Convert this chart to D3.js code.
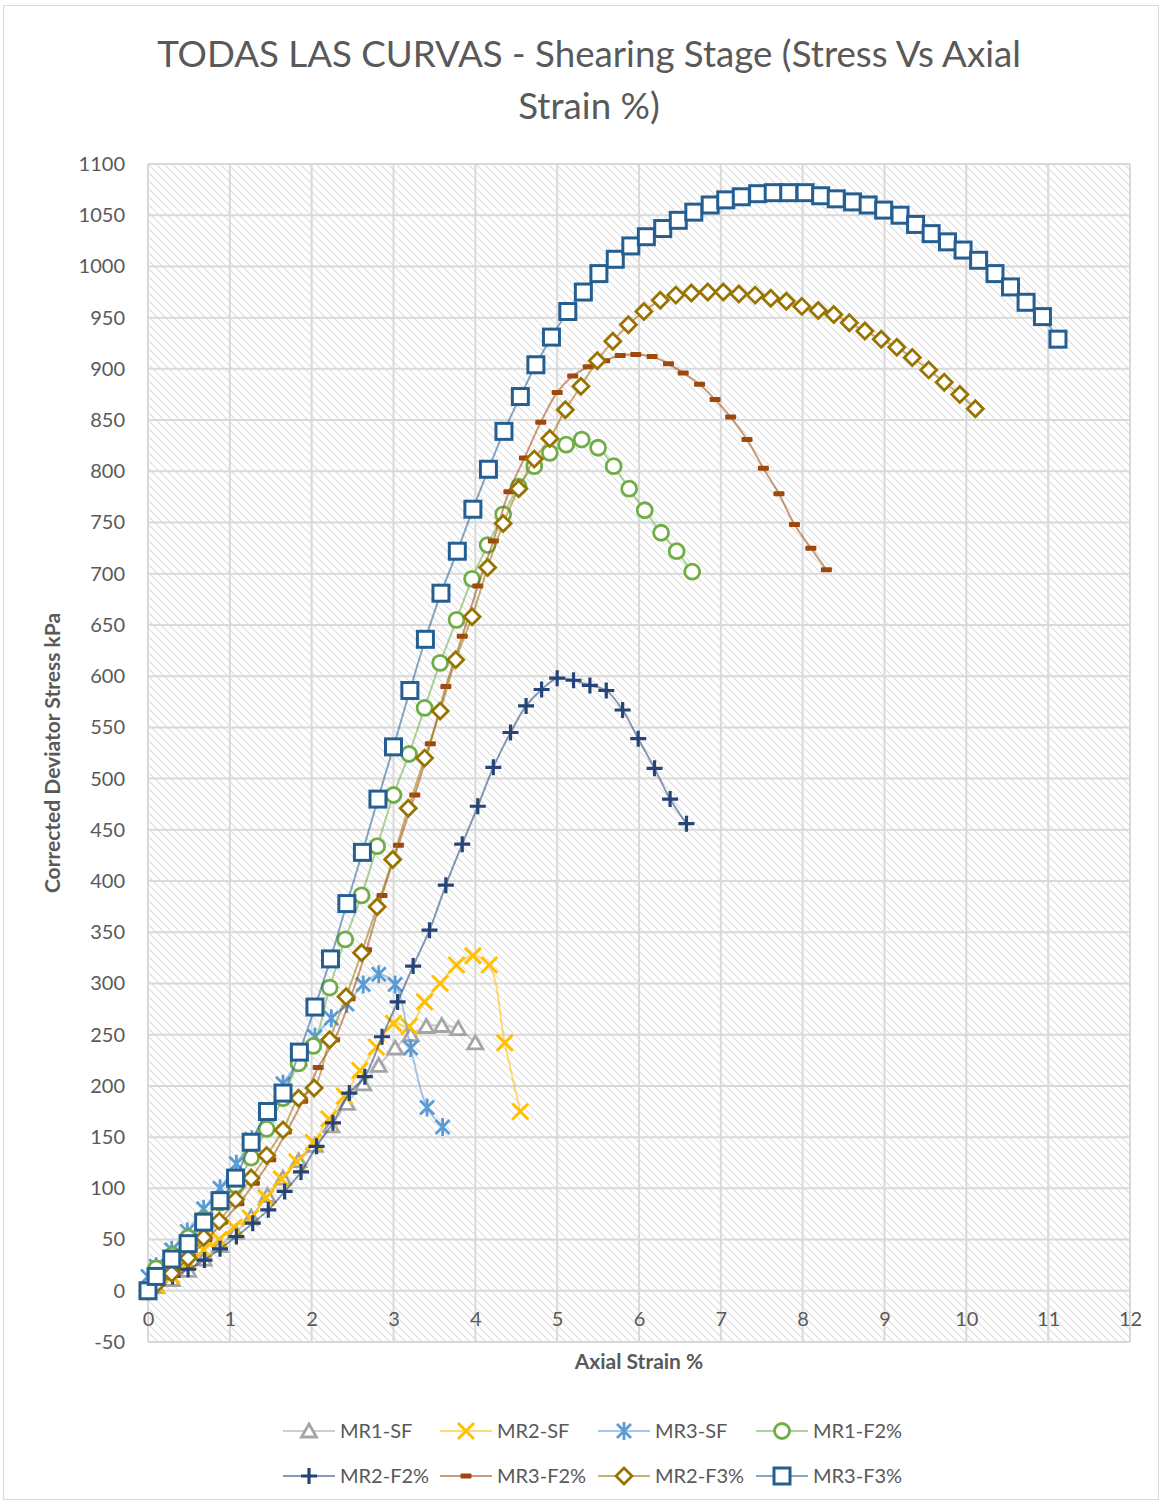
<!DOCTYPE html>
<html>
<head>
<meta charset="utf-8">
<script src="https://cdn.jsdelivr.net/npm/d3@7"></script>
<style>
  body { margin: 0; background: #fff; }
  svg text { font-family: Lato, "Open Sans", sans-serif; fill: #595959; }
</style>
</head>
<body>
<div id="chart"></div>
<script>
// chart size and plot box
var svgWidth = 1166;
var svgHeight = 1503;
var plot = { left: 148, right: 1130, top: 164, bottom: 1342 };

// tick labels
var xTicks = [0, 1, 2, 3, 4, 5, 6, 7, 8, 9, 10, 11, 12];
var yTicks = [-50, 0, 50, 100, 150, 200, 250, 300, 350, 400, 450, 500, 550, 600,
  650, 700, 750, 800, 850, 900, 950, 1000, 1050, 1100];

// series names in legend order
var seriesNames = ["MR1-SF", "MR2-SF", "MR3-SF", "MR1-F2%", "MR2-F2%", "MR3-F2%", "MR2-F3%", "MR3-F3%"];

// MR1-SF
var mr1sfX = [0, 0.1, 0.29, 0.49, 0.68, 0.88, 1.07, 1.26, 1.46, 1.65, 1.84, 2.04, 2.24, 2.43, 2.63, 2.82, 3.02, 3.21, 3.40, 3.59, 3.79, 4.0];
var mr1sfY = [0, 4, 11, 20, 31, 44, 57, 72, 93, 110, 127, 142, 161, 183, 202, 220, 237, 250, 258, 259, 256, 242];
// MR2-SF
var mr2sfX = [0, 0.1, 0.29, 0.49, 0.68, 0.87, 1.05, 1.25, 1.44, 1.63, 1.82, 2.02, 2.21, 2.40, 2.59, 2.79, 3.0, 3.19, 3.38, 3.57, 3.77, 3.97, 4.17, 4.36, 4.55];
var mr2sfY = [0, 5, 15, 28, 40, 50, 62, 71, 91, 109, 126, 145, 168, 190, 215, 238, 261, 258, 282, 300, 318, 327, 318, 242, 175];
// MR3-SF
var mr3sfX = [0, 0.1, 0.29, 0.48, 0.68, 0.88, 1.08, 1.27, 1.46, 1.65, 1.86, 2.04, 2.24, 2.43, 2.63, 2.82, 3.02, 3.21, 3.41, 3.60];
var mr3sfY = [14, 24, 40, 58, 80, 100, 124, 148, 172, 202, 226, 248, 266, 280, 299, 309, 299, 237, 179, 160];
// MR1-F2%
var mr1f2X = [0, 0.1, 0.3, 0.49, 0.68, 0.88, 1.07, 1.26, 1.45, 1.65, 1.84, 2.02, 2.22, 2.41, 2.61, 2.80, 3.0, 3.19, 3.38, 3.57, 3.77, 3.96, 4.15, 4.34, 4.53, 4.72, 4.91, 5.11, 5.30, 5.50, 5.69, 5.88, 6.07, 6.27, 6.46, 6.65];
var mr1f2Y = [0, 22, 35, 52, 70, 86, 103, 130, 158, 188, 222, 239, 296, 343, 386, 434, 484, 524, 569, 613, 655, 695, 728, 758, 785, 805, 818, 826, 831, 823, 805, 783, 762, 740, 722, 702];
// MR2-F2%
var mr2f2X = [0, 0.1, 0.30, 0.49, 0.69, 0.88, 1.08, 1.28, 1.47, 1.67, 1.87, 2.06, 2.26, 2.46, 2.65, 2.86, 3.05, 3.24, 3.44, 3.64, 3.84, 4.03, 4.22, 4.43, 4.62, 4.81, 5.00, 5.20, 5.40, 5.60, 5.80, 5.99, 6.19, 6.38, 6.58];
var mr2f2Y = [0, 6, 14, 21, 30, 41, 53, 66, 79, 97, 116, 141, 164, 193, 209, 248, 282, 317, 352, 396, 436, 473, 511, 545, 571, 587, 598, 596, 591, 586, 567, 539, 510, 480, 456];
// MR3-F2%
var mr3f2X = [0, 0.13, 0.33, 0.52, 0.72, 0.91, 1.11, 1.30, 1.50, 1.69, 1.89, 2.08, 2.28, 2.47, 2.67, 2.86, 3.06, 3.26, 3.45, 3.64, 3.84, 4.03, 4.22, 4.41, 4.60, 4.80, 5.00, 5.19, 5.38, 5.58, 5.77, 5.96, 6.16, 6.36, 6.54, 6.74, 6.93, 7.12, 7.32, 7.52, 7.71, 7.90, 8.10, 8.29];
var mr3f2Y = [0, 8, 20, 34, 50, 67, 85, 105, 128, 155, 185, 218, 245, 285, 333, 386, 435, 484, 534, 590, 639, 688, 732, 780, 813, 848, 877, 893, 902, 908, 913, 914, 912, 905, 896, 885, 870, 853, 831, 803, 778, 748, 725, 704];
// MR2-F3%
var mr2f3X = [0, 0.1, 0.29, 0.49, 0.68, 0.87, 1.07, 1.26, 1.45, 1.65, 1.84, 2.03, 2.22, 2.42, 2.61, 2.80, 2.99, 3.18, 3.38, 3.57, 3.76, 3.96, 4.15, 4.34, 4.53, 4.72, 4.91, 5.10, 5.29, 5.49, 5.68, 5.87, 6.06, 6.26, 6.45, 6.64, 6.84, 7.03, 7.22, 7.42, 7.61, 7.80, 7.99, 8.19, 8.38, 8.57, 8.76, 8.96, 9.15, 9.34, 9.54, 9.73, 9.92, 10.11];
var mr2f3Y = [0, 6, 17, 32, 52, 68, 89, 110, 132, 157, 188, 198, 245, 287, 330, 375, 421, 471, 520, 566, 616, 658, 706, 749, 783, 812, 832, 860, 883, 908, 927, 943, 956, 967, 972, 974, 975, 975, 973, 972, 969, 966, 961, 957, 953, 945, 937, 929, 921, 911, 899, 887, 875, 861];
// MR3-F3%
var mr3f3X = [0, 0.1, 0.29, 0.49, 0.68, 0.88, 1.07, 1.26, 1.46, 1.65, 1.85, 2.04, 2.23, 2.43, 2.62, 2.81, 3.0, 3.2, 3.39, 3.58, 3.78, 3.97, 4.16, 4.35, 4.55, 4.74, 4.93, 5.13, 5.32, 5.51, 5.71, 5.90, 6.09, 6.29, 6.48, 6.67, 6.87, 7.06, 7.25, 7.45, 7.64, 7.83, 8.03, 8.22, 8.41, 8.61, 8.80, 8.99, 9.19, 9.38, 9.57, 9.77, 9.96, 10.15, 10.35, 10.54, 10.73, 10.93, 11.12];
var mr3f3Y = [0, 14, 31, 46, 67, 88, 110, 145, 175, 193, 233, 277, 324, 378, 428, 480, 531, 586, 636, 681, 722, 763, 802, 839, 873, 904, 931, 956, 975, 993, 1007, 1020, 1029, 1037, 1045, 1053, 1060, 1065, 1068, 1071, 1072, 1072, 1072, 1069, 1066, 1063, 1060, 1055, 1050, 1041, 1032, 1024, 1016, 1006, 993, 980, 965, 951, 929];

var seriesX = [mr1sfX, mr2sfX, mr3sfX, mr1f2X, mr2f2X, mr3f2X, mr2f3X, mr3f3X];
var seriesY = [mr1sfY, mr2sfY, mr3sfY, mr1f2Y, mr2f2Y, mr3f2Y, mr2f3Y, mr3f3Y];
var colors = ["#A5A5A5", "#FFC000", "#5B9BD5", "#70AD47", "#264478", "#9E480E", "#997300", "#255E91"];
var markers = ["triangle", "x", "star", "circle", "plus", "dash", "diamond", "square"];

var svg = d3.select("#chart")
  .append("svg")
  .attr("width", svgWidth)
  .attr("height", svgHeight);

// outer chart border
svg.append("rect")
  .attr("x", 3.5).attr("y", 5.5)
  .attr("width", 1155).attr("height", 1494)
  .attr("fill", "#fff")
  .attr("stroke", "#d9d9d9");

// diagonal hatch for the plot area
var defs = svg.append("defs");
var pat = defs.append("pattern")
  .attr("id", "hatch")
  .attr("patternUnits", "userSpaceOnUse")
  .attr("width", 8).attr("height", 8);
pat.append("rect").attr("width", 8).attr("height", 8).attr("fill", "#fff");
pat.append("path")
  .attr("d", "M0,0L8,8M-2,6L2,10M6,-2L10,2")
  .attr("stroke", "#dedede")
  .attr("stroke-width", 1.1);

var xScale = d3.scaleLinear().domain([0, 12]).range([plot.left, plot.right]);
var yScale = d3.scaleLinear().domain([-50, 1100]).range([plot.bottom, plot.top]);

svg.append("rect")
  .attr("x", plot.left).attr("y", plot.top)
  .attr("width", plot.right - plot.left)
  .attr("height", plot.bottom - plot.top)
  .attr("fill", "url(#hatch)");

// gridlines
var grid = svg.append("g").attr("stroke", "#d9d9d9").attr("stroke-width", 2);
grid.selectAll(".hg").data(yTicks).enter().append("line")
  .attr("x1", plot.left).attr("x2", plot.right)
  .attr("y1", d => yScale(d)).attr("y2", d => yScale(d));
grid.selectAll(".vg").data(xTicks).enter().append("line")
  .attr("y1", plot.top).attr("y2", plot.bottom)
  .attr("x1", d => xScale(d)).attr("x2", d => xScale(d));

// axes (labels only)
var leftAxis = d3.axisLeft(yScale).tickValues(yTicks).tickSize(0).tickPadding(23)
  .tickFormat(d => String(d));
var yAxis = svg.append("g")
  .attr("transform", `translate(${plot.left}, 0)`)
  .call(leftAxis);
yAxis.select(".domain").remove();
yAxis.selectAll("text").attr("font-size", 20).attr("fill", "#595959")
  .style("font-family", "Lato, sans-serif");

var bottomAxis = d3.axisBottom(xScale).tickValues(xTicks).tickSize(0).tickPadding(21)
  .tickFormat(d => String(d));
var xAxis = svg.append("g")
  .attr("transform", `translate(0, ${yScale(0)})`)
  .call(bottomAxis);
xAxis.select(".domain").remove();
xAxis.selectAll("text").attr("font-size", 20).attr("fill", "#595959")
  .style("font-family", "Lato, sans-serif");

// marker drawing
function drawMarker(g, type, color) {
  if (type === "triangle") {
    g.append("path").attr("d", "M0,-7L7.5,6L-7.5,6Z")
      .attr("fill", "#fff").attr("stroke", color).attr("stroke-width", 2.8);
  } else if (type === "x") {
    g.append("path").attr("d", "M-8,-8L8,8M-8,8L8,-8")
      .attr("stroke", color).attr("stroke-width", 3);
  } else if (type === "star") {
    g.append("path").attr("d", "M-7,-7L7,7M-7,7L7,-7M0,-9L0,9")
      .attr("stroke", color).attr("stroke-width", 2.8);
  } else if (type === "circle") {
    g.append("circle").attr("r", 7.5)
      .attr("fill", "#fff").attr("stroke", color).attr("stroke-width", 2.8);
  } else if (type === "plus") {
    g.append("path").attr("d", "M-8,0L8,0M0,-8L0,8")
      .attr("stroke", color).attr("stroke-width", 3.2);
  } else if (type === "dash") {
    g.append("rect").attr("x", -5.5).attr("y", -2.5).attr("width", 11).attr("height", 5)
      .attr("rx", 1).attr("fill", color);
  } else if (type === "diamond") {
    g.append("path").attr("d", "M0,-8L8,0L0,8L-8,0Z")
      .attr("fill", "#fff").attr("stroke", color).attr("stroke-width", 2.8);
  } else if (type === "square") {
    g.append("rect").attr("x", -8).attr("y", -8).attr("width", 16).attr("height", 16)
      .attr("fill", "#fff").attr("stroke", color).attr("stroke-width", 3);
  }
}

var line = d3.line()
  .x(d => xScale(d[0]))
  .y(d => yScale(d[1]))
  .curve(d3.curveCatmullRom);

seriesNames.forEach(function(name, i) {
  var pts = seriesX[i].map((x, j) => [x, seriesY[i][j]]);
  var g = svg.append("g").attr("class", "series");
  g.append("path")
    .attr("d", line(pts))
    .attr("fill", "none")
    .attr("stroke", colors[i])
    .attr("stroke-opacity", 0.55)
    .attr("stroke-width", 2);
  g.selectAll(".m").data(pts).enter().append("g")
    .attr("transform", d => `translate(${xScale(d[0])}, ${yScale(d[1])})`)
    .each(function() { drawMarker(d3.select(this), markers[i], colors[i]); });
});

// title
var title = svg.append("text")
  .attr("text-anchor", "middle")
  .attr("font-size", 36)
  .style("font-family", "Lato, sans-serif");
title.append("tspan").attr("x", 589).attr("y", 67)
  .text("TODAS LAS CURVAS - Shearing Stage (Stress Vs Axial");
title.append("tspan").attr("x", 589).attr("y", 119)
  .text("Strain %)");
var tw = title.select("tspan").node().getComputedTextLength();
title.attr("font-size", 36 * 864 / tw);

// axis titles
svg.append("text")
  .attr("transform", "translate(60, 753) rotate(-90)")
  .attr("text-anchor", "middle")
  .attr("font-size", 21).attr("font-weight", "bold")
  .text("Corrected Deviator Stress  kPa");

svg.append("text")
  .attr("x", 639).attr("y", 1369)
  .attr("text-anchor", "middle")
  .attr("font-size", 21).attr("font-weight", "bold")
  .text("Axial Strain %");

// legend
var legendCols = [283, 440, 598, 756];
var legendRows = [1431, 1476];
seriesNames.forEach(function(name, i) {
  var lx = legendCols[i % 4];
  var ly = legendRows[Math.floor(i / 4)];
  var lg = svg.append("g").attr("transform", `translate(${lx}, ${ly})`);
  lg.append("line").attr("x1", 0).attr("x2", 52)
    .attr("stroke", colors[i]).attr("stroke-opacity", 0.55).attr("stroke-width", 2);
  drawMarker(lg.append("g").attr("transform", "translate(26,0)"), markers[i], colors[i]);
  lg.append("text").attr("x", 57).attr("y", 7)
    .attr("font-size", 20)
    .text(name);
});
</script>
</body>
</html>
